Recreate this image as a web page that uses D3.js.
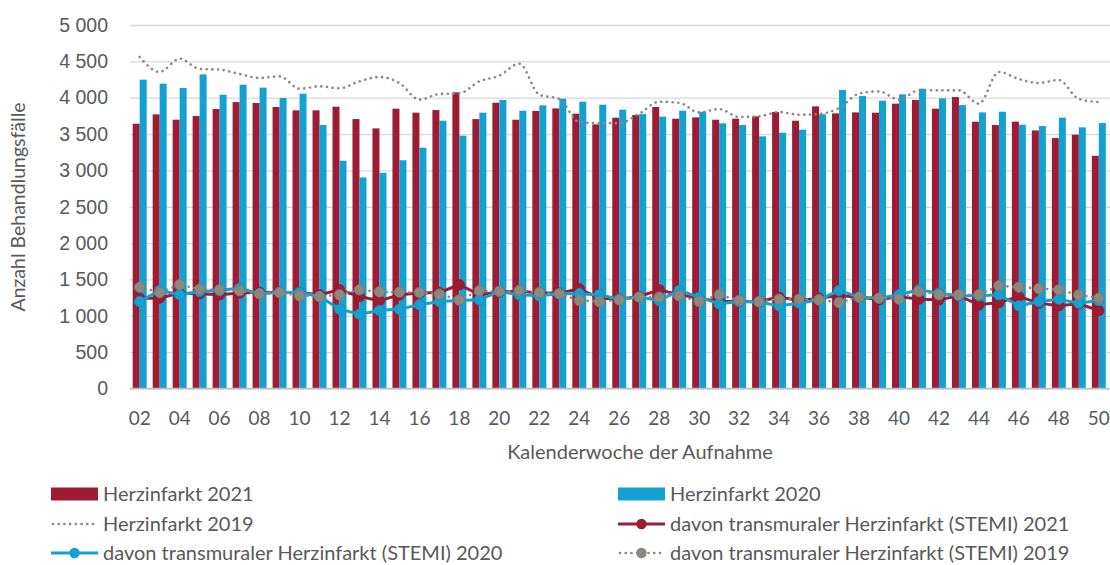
<!DOCTYPE html>
<html>
<head>
<meta charset="utf-8">
<script src="https://cdn.jsdelivr.net/npm/d3@7"></script>
<style>
  body { margin: 0; background: #fff; }
  svg { font-family: Lato, "Open Sans", sans-serif; }
  text { fill: #595959; }
</style>
</head>
<body>
<div id="chart"></div>
<script>
// calendar weeks 02..50
var weeks = d3.range(2, 51).map(d => d3.format('02')(d))

var hi2021 = [3642, 3771, 3697, 3748, 3844, 3940, 3927, 3872, 3826, 3826, 3876, 3706, 3578, 3849, 3794, 3830, 4074,
  3706, 3931, 3697, 3817, 3853, 3780, 3633, 3725, 3762, 3872, 3711, 3729, 3697, 3711, 3743, 3803,
  3683, 3881, 3784, 3798, 3794, 3918, 3968, 3849, 4009, 3670, 3624, 3670, 3550, 3445, 3491, 3201]

var hi2020 = [4248, 4193, 4133, 4321, 4041, 4179, 4138, 3996, 4055, 3624, 3133, 2903, 2967, 3140, 3312, 3683, 3477,
  3794, 3968, 3821, 3895, 3986, 3945, 3904, 3835, 3775, 3739, 3821, 3807, 3647, 3624, 3468, 3518,
  3560, 3771, 4106, 4023, 3959, 4046, 4124, 3991, 3899, 3798, 3807, 3628, 3610, 3725, 3592, 3651]

var hi2019 = [4560, 4354, 4537, 4395, 4386, 4326, 4271, 4294, 4124, 4156, 4129, 4225, 4285, 4202, 3973, 4051, 4060,
  4225, 4303, 4468, 4041, 3982, 3665, 3650, 3650, 3780, 3945, 3930, 3798, 3844, 3734, 3743, 3803,
  3766, 3776, 3858, 4055, 4087, 3973, 4101, 4101, 4101, 3918, 4354, 4257, 4202, 4243, 3982, 3940]

var stemi2021 = [1243, 1243, 1312, 1303, 1289, 1312, 1321, 1321, 1321, 1289, 1358, 1266, 1206, 1289, 1312, 1321, 1427,
  1289, 1326, 1340, 1312, 1312, 1372, 1243, 1229, 1266, 1358, 1289, 1243, 1197, 1197, 1197, 1257,
  1211, 1243, 1275, 1257, 1220, 1266, 1229, 1220, 1275, 1151, 1183, 1266, 1174, 1137, 1165, 1073]

var stemi2020 = [1197, 1349, 1289, 1335, 1349, 1381, 1303, 1321, 1321, 1266, 1092, 1023, 1073, 1092, 1151, 1197, 1211,
  1220, 1335, 1289, 1275, 1303, 1303, 1289, 1229, 1257, 1211, 1349, 1257, 1165, 1197, 1188, 1137,
  1174, 1220, 1349, 1257, 1243, 1289, 1358, 1312, 1275, 1275, 1289, 1137, 1197, 1229, 1174, 1211]

var stemi2019 = [1394, 1321, 1427, 1367, 1358, 1344, 1303, 1321, 1275, 1266, 1289, 1358, 1330, 1326, 1321, 1298, 1220,
  1344, 1335, 1349, 1321, 1303, 1211, 1197, 1220, 1257, 1257, 1275, 1197, 1289, 1211, 1197, 1229,
  1229, 1220, 1183, 1257, 1243, 1229, 1335, 1289, 1289, 1289, 1413, 1394, 1376, 1358, 1289, 1243]

var yTicks = d3.range(0, 5001, 500)

var red = '#9e1c33', blue = '#13a1d1', grey = '#8b887f'

var width = 1110, height = 565
var svg = d3.select('#chart').append('svg').attr('width', width).attr('height', height)

var x = d3.scaleBand().domain(weeks).range([129.7, 1108.8]).paddingInner(0.3).paddingOuter(0.15)
var x2 = d3.scaleBand().domain(['a', 'b']).range([0, x.bandwidth()])
var y = d3.scaleLinear().domain([0, 5000]).range([388.5, 25])

var fmt = d3.formatLocale({thousands: ' ', grouping: [3], decimal: ',', currency: ['', '']}).format(',')

// gridlines + y labels
var yAxis = d3.axisLeft(y).tickValues(yTicks).tickFormat(fmt).tickSize(-(1110 - 130)).tickPadding(22)
svg.append('g').attr('transform', 'translate(130,0)').call(yAxis)
  .call(g => g.select('.domain').remove())
  .call(g => g.selectAll('.tick line').attr('stroke', '#d9d9d9').attr('stroke-width', 1.3))
  .call(g => g.selectAll('.tick text').attr('font-size', 19.5).attr('fill', '#595959'))

// bars
var series = [{key: 'a', vals: hi2021, color: red}, {key: 'b', vals: hi2020, color: blue}]
series.forEach(s => {
  svg.append('g').selectAll('rect').data(s.vals).join('rect')
    .attr('x', (d, i) => x(weeks[i]) + x2(s.key))
    .attr('width', x2.bandwidth())
    .attr('y', d => y(d))
    .attr('height', d => y(0) - y(d))
    .attr('fill', s.color)
})

// baseline
svg.append('line').attr('x1', 130).attr('x2', 1110).attr('y1', y(0)).attr('y2', y(0))
  .attr('stroke', '#bfbfbf').attr('stroke-width', 1.3)

var cx = (d, i) => x(weeks[i]) + x.bandwidth() / 2
var line = d3.line().x(cx).y(d => y(d)).curve(d3.curveMonotoneX)
var lineStraight = d3.line().x(cx).y(d => y(d))

// 2019 dotted
svg.append('path').attr('d', line(hi2019)).attr('fill', 'none').attr('stroke', grey)
  .attr('stroke-width', 2.6).attr('stroke-dasharray', '0.1 5.6').attr('stroke-linecap', 'round')

// STEMI lines
var stemi = [
  {vals: stemi2021, color: red, dotted: false},
  {vals: stemi2020, color: blue, dotted: false},
  {vals: stemi2019, color: grey, dotted: true}
]
stemi.forEach(s => {
  var g = svg.append('g')
  g.append('path').attr('d', lineStraight(s.vals)).attr('fill', 'none').attr('stroke', s.color)
    .attr('stroke-width', s.dotted ? 2.6 : 3)
    .attr('stroke-dasharray', s.dotted ? '0.1 5.6' : null)
    .attr('stroke-linecap', s.dotted ? 'round' : 'butt')
  g.selectAll('circle').data(s.vals).join('circle')
    .attr('cx', cx).attr('cy', d => y(d)).attr('r', 5.2)
    .attr('fill', s.color).attr('stroke', d3.color(s.color).darker(0.3)).attr('stroke-width', 0.8)
})

// x labels
svg.append('g').selectAll('text').data(weeks.filter((d, i) => i % 2 == 0)).join('text')
  .attr('x', d => x(d) + x.bandwidth() / 2).attr('y', 418).attr('dy', '0.35em')
  .attr('text-anchor', 'middle').attr('font-size', 19).text(d => d)

svg.append('text').attr('x', 640).attr('y', 452).attr('dy', '0.35em').attr('text-anchor', 'middle')
  .attr('font-size', 20).text('Kalenderwoche der Aufnahme')

svg.append('text').attr('transform', 'translate(18,207) rotate(-90)').attr('dy', '0.35em')
  .attr('text-anchor', 'middle').attr('font-size', 19.5).text('Anzahl Behandlungsfälle')

// legend
var legend = [
  {label: 'Herzinfarkt 2021', type: 'bar', color: red, col: 0, row: 0},
  {label: 'Herzinfarkt 2020', type: 'bar', color: blue, col: 1, row: 0},
  {label: 'Herzinfarkt 2019', type: 'dots', color: grey, col: 0, row: 1},
  {label: 'davon transmuraler Herzinfarkt (STEMI) 2021', type: 'line', color: red, col: 1, row: 1},
  {label: 'davon transmuraler Herzinfarkt (STEMI) 2020', type: 'line', color: blue, col: 0, row: 2},
  {label: 'davon transmuraler Herzinfarkt (STEMI) 2019', type: 'dotmark', color: grey, col: 1, row: 2}
]
var colX = [51, 618], rowY = [494, 524, 553]
var lg = svg.append('g').selectAll('g').data(legend).join('g')
  .attr('transform', d => `translate(${colX[d.col]},${rowY[d.row]})`)
lg.filter(d => d.type == 'bar').append('rect')
  .attr('x', 0).attr('y', -6.5).attr('width', 47).attr('height', 13).attr('fill', d => d.color)
lg.filter(d => d.type != 'bar').append('line')
  .attr('x1', d => d.type == 'line' ? 0 : 2).attr('x2', 47).attr('y1', 0).attr('y2', 0)
  .attr('stroke', d => d.color)
  .attr('stroke-width', d => d.type == 'line' ? 3 : 2.6)
  .attr('stroke-dasharray', d => d.type == 'line' ? null : '0.1 5.6')
  .attr('stroke-linecap', d => d.type == 'line' ? 'butt' : 'round')
lg.filter(d => d.type == 'line' || d.type == 'dotmark').append('circle')
  .attr('cx', 23.5).attr('cy', 0).attr('r', 5.2).attr('fill', d => d.color)
lg.append('text').attr('x', 52).attr('y', 0).attr('dy', '0.35em')
  .attr('font-size', 20).text(d => d.label)
</script>
</body>
</html>
